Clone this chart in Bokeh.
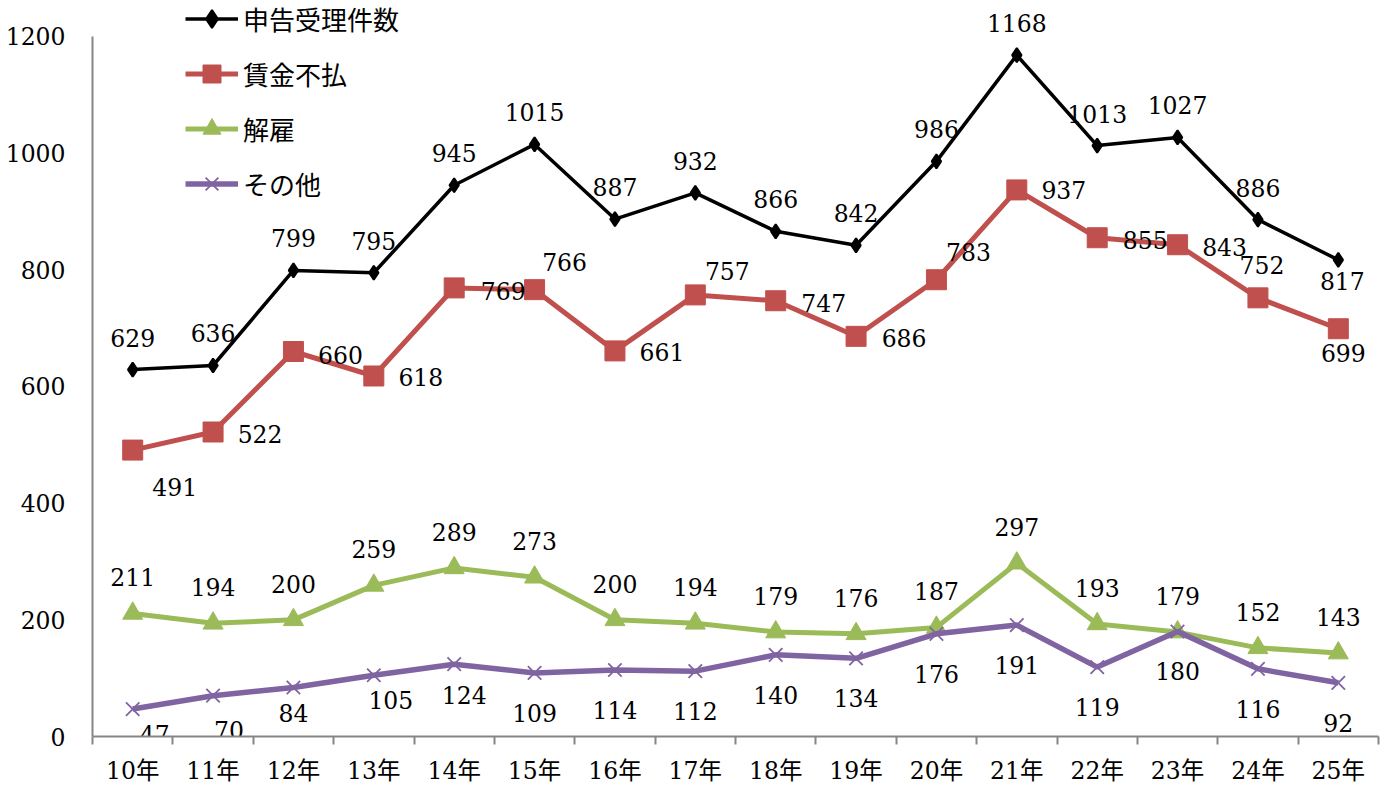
from bokeh.plotting import figure
from bokeh.models import ColumnDataSource, Range1d, FixedTicker, Legend, LegendItem
from bokeh.core.properties import value
from bokeh.embed import file_html
from bokeh.resources import INLINE

# ---- data ----
years = ["10年", "11年", "12年", "13年", "14年", "15年", "16年", "17年",
         "18年", "19年", "20年", "21年", "22年", "23年", "24年", "25年"]
total = [629, 636, 799, 795, 945, 1015, 887, 932, 866, 842, 986, 1168, 1013, 1027, 886, 817]
wage = [491, 522, 660, 618, 769, 766, 661, 757, 747, 686, 783, 937, 855, 843, 752, 699]
dismissal = [211, 194, 200, 259, 289, 273, 200, 194, 179, 176, 187, 297, 193, 179, 152, 143]
other = [47, 70, 84, 105, 124, 109, 114, 112, 140, 134, 176, 191, 119, 180, 116, 92]
y_ticks = [0, 200, 400, 600, 800, 1000, 1200]

# ---- label placement (screen px offsets, style only) ----
total_dx = [0] * 15 + [4]
total_dy = [-32] * 15 + [21]
wage_dx = [42, 47, 47, 47, 49, 30, 47, 32, 48, 48, 32, 47, 48, 47, 4, 5]
wage_dy = [37, 2, 4, 1, 3, -28, 1, -24, 2, 2, -28, 0, 2, 2, -33, 24]
dis_dx = [0] * 16
dis_dy = [-36] * 16
oth_dx = [22, 16, 0, 17, 10] + [0] * 11
oth_dy = [25, 34, 26, 25, 31] + [40] * 11

FONT = "DejaVu Serif, Noto Sans CJK JP"
GREY = "#868686"
FS = "23.5px"

xs = [i + 0.5 for i in range(len(years))]

p = figure(width=1395, height=787,
           x_range=Range1d(0, len(years)), y_range=Range1d(0, 1261.7),
           output_backend="svg", toolbar_location=None,
           min_border_left=92, min_border_right=17, min_border_top=0, min_border_bottom=51)
p.outline_line_color = None
p.grid.visible = False
p.background_fill_color = "white"

# x axis
xa = p.xaxis[0]
xa.ticker = FixedTicker(ticks=xs, minor_ticks=list(range(len(years) + 1)))
xa.major_label_overrides = {x: y for x, y in zip(xs, years)}
xa.major_tick_out = 0
xa.major_tick_in = 0
xa.minor_tick_out = 8
xa.minor_tick_in = 0
xa.minor_tick_line_color = GREY
xa.minor_tick_line_width = 2
xa.axis_line_color = GREY
xa.axis_line_width = 2
xa.major_label_standoff = 12
xa.major_label_text_font = FONT
xa.major_label_text_font_size = FS
xa.major_label_text_color = "black"

# y axis
ya = p.yaxis[0]
ya.ticker = FixedTicker(ticks=y_ticks)
ya.bounds = (0, 1200)
ya.major_tick_out = 0
ya.major_tick_in = 0
ya.minor_tick_line_color = None
ya.axis_line_color = GREY
ya.axis_line_width = 2
ya.major_label_standoff = 27
ya.major_label_text_font = FONT
ya.major_label_text_font_size = FS
ya.major_label_text_color = "black"

series = [
    ("申告受理件数", total, "black", 3.5, "diamond", 14, 2, total_dx, total_dy),
    ("賃金不払", wage, "#C0504D", 5, "square", 20, 1, wage_dx, wage_dy),
    ("解雇", dismissal, "#9BBB59", 5, "triangle", 20, 1, dis_dx, dis_dy),
    ("その他", other, "#8064A2", 5.5, "x", 19, 1.8, oth_dx, oth_dy),
]

items = []
for name, vals, color, lw, marker, msize, mlw, dx, dy in series:
    src = ColumnDataSource(dict(x=xs, y=vals))
    lr = p.line("x", "y", source=src, line_color=color, line_width=lw)
    sr = p.scatter("x", "y", source=src, marker=marker, size=msize,
                   fill_color=color, line_color=color, line_width=mlw)
    items.append(LegendItem(label=name, renderers=[lr, sr]))

for name, vals, color, lw, marker, msize, mlw, dx, dy in series:
    src = ColumnDataSource(dict(x=xs, y=vals, t=[str(v) for v in vals], dx=dx, dy=dy))
    p.text("x", "y", text="t", source=src, x_offset="dx", y_offset="dy",
           text_align="center", text_baseline="middle",
           text_font=value(FONT), text_font_size=FS, text_color="black")

legend = Legend(items=items, location=(93, 530), orientation="vertical",
                glyph_width=53, glyph_height=45, label_height=26, label_standoff=5,
                spacing=10, padding=0, margin=0,
                border_line_color=None, background_fill_alpha=0,
                label_text_font=FONT, label_text_font_size="26px", label_text_color="black")
p.add_layout(legend, "center")

open("out.html", "w").write(file_html(p, INLINE))
